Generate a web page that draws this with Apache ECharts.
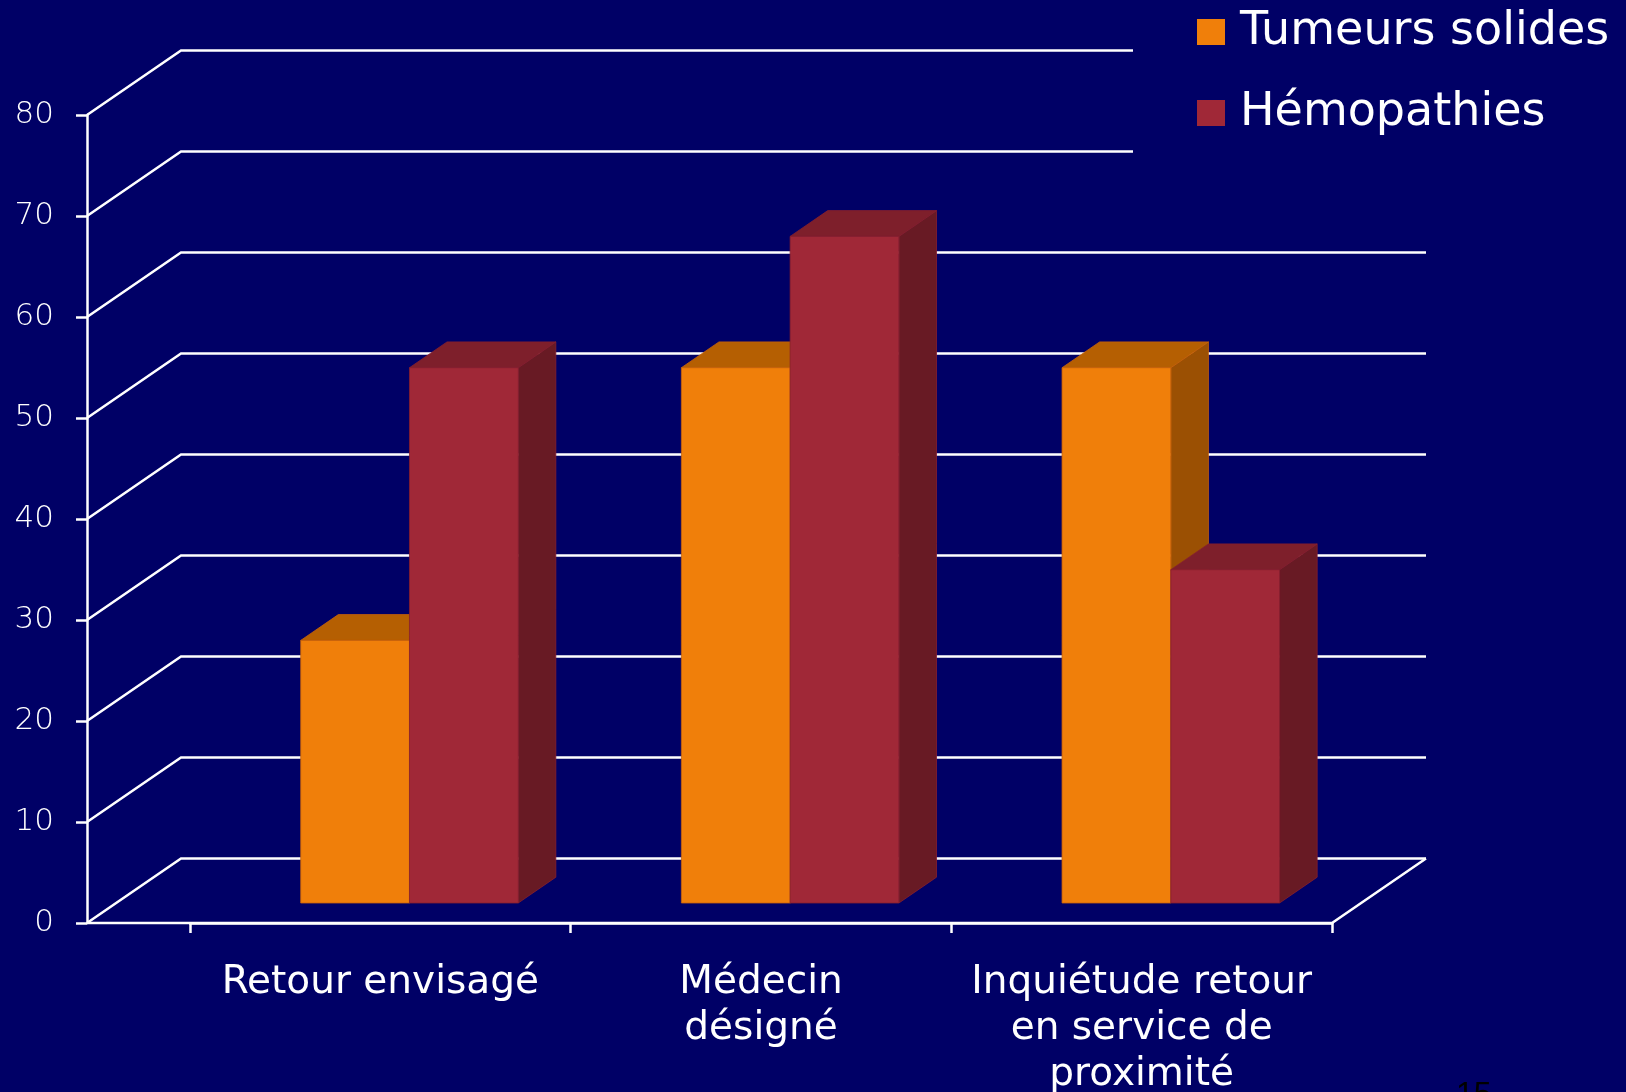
<!DOCTYPE html>
<html>
<head>
<meta charset="utf-8">
<title>Tumeurs solides / Hémopathies</title>
<script src="https://cdn.jsdelivr.net/npm/echarts@6/dist/echarts.min.js"></script>
<style>
  html, body { margin: 0; padding: 0; background: #000066; }
  #chart { width: 1626px; height: 1092px; }
</style>
</head>
<body>
<div id="chart"></div>
<script>
// ---- data ----
const categories = ['Retour envisagé', 'Médecin\ndésigné', 'Inquiétude retour\nen service de\nproximité'];
const seriesNames = ['Tumeurs solides', 'Hémopathies'];
const tumeursValues = [26, 53, 53];
const hemopathiesValues = [53, 66, 33];
const yTicks = [0, 10, 20, 30, 40, 50, 60, 70, 80];

// ---- look ----
const BG = '#000066';
const LINE = '#ffffff';
const FONT = '"DejaVu Sans", sans-serif';
const AXIS_OFFSET = 103;          // value axis drawn left of the category area
const DEPTH_DX = 94, DEPTH_DY = 64.5; // oblique depth of the floor / walls
const FACE_T = 0.31, BACK_T = 0.71;   // depth of bar front and back faces
const palettes = [
  { front: '#f07f0a', top: '#b55f02', side: '#9b5003', edge: '#c8620a' },
  { front: '#a02837', top: '#7e1f2b', side: '#681a24', edge: '#861f2e' }
];

// back walls, floor and oblique gridlines
function renderFrame(params, api) {
  const cs = params.coordSys;
  const v = api.value(1);
  const y = api.coord([0, v])[1];
  const ax = cs.x - AXIS_OFFSET;
  const right = cs.x + cs.width;
  const children = [{
    type: 'polyline',
    shape: { points: [[ax, y], [ax + DEPTH_DX, y - DEPTH_DY], [right + DEPTH_DX, y - DEPTH_DY]] },
    style: { stroke: LINE, lineWidth: 2.5, fill: null }
  }];
  if (v === 0) {
    children.push({
      type: 'polyline',
      shape: { points: [[ax, y], [right, y], [right + DEPTH_DX, y - DEPTH_DY]] },
      style: { stroke: LINE, lineWidth: 2.5, fill: null }
    });
  }
  return { type: 'group', children };
}

// pseudo-3D bar: front face, top face and right side face
function makeBarRenderer(k) {
  const pal = palettes[k];
  return function (params, api) {
    const cat = api.value(0);
    const v = api.value(1);
    const top = api.coord([cat, v]);
    const base = api.coord([cat, 0]);
    const band = api.size([1, 0])[0];
    const w = band * 2 / 7;
    const fx = FACE_T * DEPTH_DX, fy = FACE_T * DEPTH_DY;
    const dx = (BACK_T - FACE_T) * DEPTH_DX, dy = (BACK_T - FACE_T) * DEPTH_DY;
    const xl = top[0] + fx + (k === 0 ? -w : 0);
    const xr = xl + w;
    const yt = top[1] - fy;
    const yb = base[1] - fy;
    return {
      type: 'group',
      children: [
        { type: 'polygon', shape: { points: [[xr, yt], [xr + dx, yt - dy], [xr + dx, yb - dy], [xr, yb]] },
          style: { fill: pal.side, stroke: pal.edge, lineWidth: 0.8 } },
        { type: 'polygon', shape: { points: [[xl, yt], [xl + dx, yt - dy], [xr + dx, yt - dy], [xr, yt]] },
          style: { fill: pal.top, stroke: pal.edge, lineWidth: 0.8 } },
        { type: 'rect', shape: { x: xl, y: yt, width: w, height: yb - yt },
          style: { fill: pal.front, stroke: pal.edge, lineWidth: 0.8 } }
      ]
    };
  };
}

const chart = echarts.init(document.getElementById('chart'), null, { renderer: 'canvas' });

chart.setOption({
  backgroundColor: BG,
  animation: false,
  grid: { left: 190, right: 294, top: 115, bottom: 169, containLabel: false, outerBoundsMode: 'none' },
  legend: {
    data: seriesNames,
    orient: 'vertical',
    left: 1133,
    top: 0,
    padding: [9, 40, 26, 64],
    backgroundColor: BG,
    itemWidth: 28,
    itemHeight: 26,
    itemGap: 35,
    icon: 'rect',
    selectedMode: false,
    textStyle: { color: '#ffffff', fontSize: 46, lineHeight: 46, fontFamily: FONT, padding: [0, 0, 0, 10] }
  },
  xAxis: {
    type: 'category',
    data: categories,
    boundaryGap: true,
    axisLine: { show: true, lineStyle: { color: LINE, width: 2.5 } },
    axisTick: { show: true, length: 10, lineStyle: { color: LINE, width: 2.5 } },
    axisLabel: { color: '#ffffff', fontSize: 39, lineHeight: 46, fontFamily: FONT, margin: 37, interval: 0 },
    splitLine: { show: false }
  },
  yAxis: {
    type: 'value',
    min: 0,
    max: 80,
    interval: 10,
    offset: AXIS_OFFSET,
    axisLine: { show: true, lineStyle: { color: LINE, width: 2.5 } },
    axisTick: { show: true, length: 11, lineStyle: { color: LINE, width: 2.5 } },
    axisLabel: { color: '#ffffff', fontSize: 31, fontFamily: FONT, fontWeight: 200, margin: 33 },
    splitLine: { show: false }
  },
  graphic: [{
    type: 'text',
    left: 1456,
    top: 1079,
    style: { text: '15', fontSize: 32, fill: '#000000', fontFamily: '"Liberation Sans", sans-serif' }
  }],
  series: [
    {
      name: 'frame',
      type: 'custom',
      z: 1,
      silent: true,
      renderItem: renderFrame,
      data: yTicks.map(v => [0, v])
    },
    {
      name: seriesNames[0],
      type: 'custom',
      z: 2,
      itemStyle: { color: palettes[0].front },
      renderItem: makeBarRenderer(0),
      encode: { x: 0, y: 1 },
      data: tumeursValues.map((v, i) => [i, v])
    },
    {
      name: seriesNames[1],
      type: 'custom',
      z: 3,
      itemStyle: { color: palettes[1].front },
      renderItem: makeBarRenderer(1),
      encode: { x: 0, y: 1 },
      data: hemopathiesValues.map((v, i) => [i, v])
    }
  ]
});
</script>
</body>
</html>
